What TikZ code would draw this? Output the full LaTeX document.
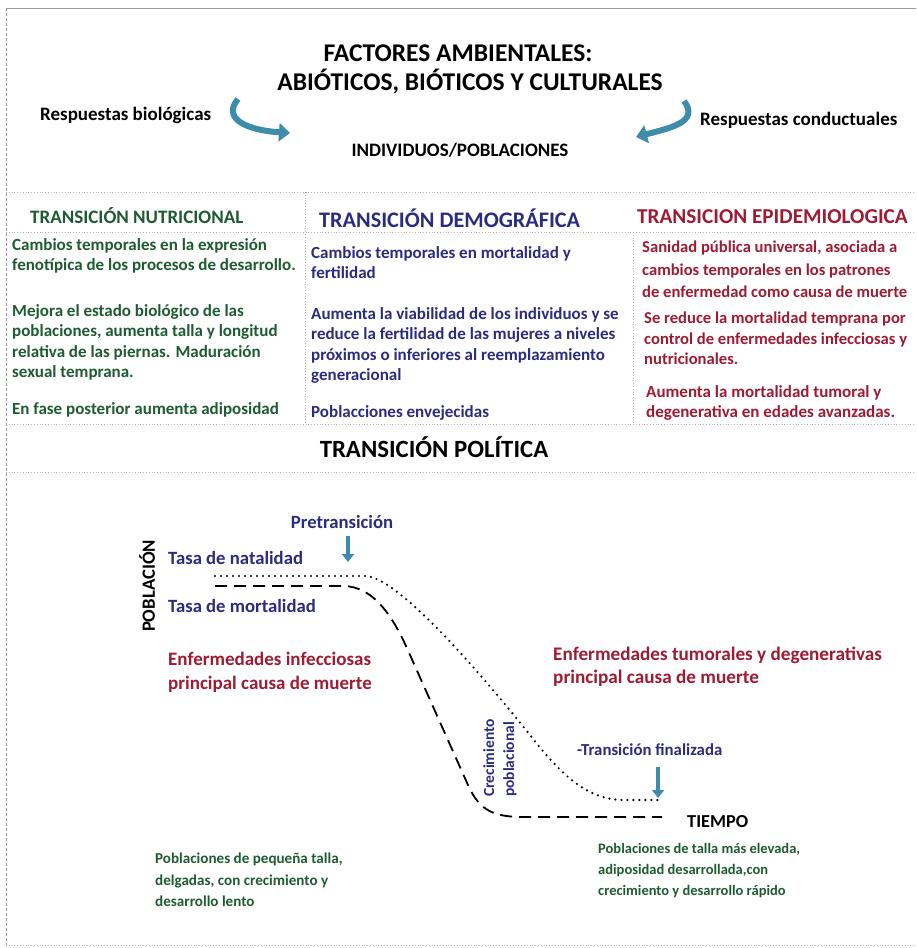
\documentclass[tikz,border=0pt]{standalone}
\usepackage{fontspec}
\setmainfont{Carlito}
\usetikzlibrary{arrows.meta}
\definecolor{verde}{HTML}{1E5A32}
\definecolor{azul}{HTML}{2B2B80}
\definecolor{rojo}{HTML}{9E1B32}
\definecolor{turq}{HTML}{3C8CAA}

\begin{document}
\begin{tikzpicture}[x=1pt, y=-1pt, >=latex,
    titulo/.style={font=\bfseries\fontsize{25.5}{29}\selectfont},
    cabeza/.style={anchor=west, inner sep=0pt, font=\bfseries\fontsize{#1}{#1}\selectfont},
    cuerpo/.style={anchor=north west, align=left, inner sep=0pt, font=\bfseries\fontsize{17}{20.5}\selectfont},
    graf/.style={anchor=west, align=left, inner sep=0pt, font=\bfseries\fontsize{18.7}{23}\selectfont},
    sep/.style={dotted, gray!60, line width=0.8pt},
    flecha/.style={turq, line width=6pt, -{Triangle[width=18pt,length=11pt]}},
    flechita/.style={turq, line width=4pt, -{Triangle[width=12pt,length=8pt]}}]
  \useasboundingbox (0,0) rectangle (916,948);
  % marco
  \draw[gray!80, line width=1pt] (6,8) -- (916,8);
  \draw[gray!80, line width=1pt, densely dashed] (6,8) -- (6,948);
  \draw[sep] (6,945) -- (916,945);

  % cabecera
  \node[titulo] (fact) at (458,53) {FACTORES AMBIENTALES:};
  \node[titulo] (abio) at (470,82) {ABIÓTICOS, BIÓTICOS Y CULTURALES};
  \node[cabeza=19] (rbio) at (40,115) {Respuestas biológicas};
  \node[cabeza=19] (rcon) at (700,120) {Respuestas conductuales};
  \node[font=\bfseries\fontsize{19}{19}\selectfont] (indiv) at (460,150) {INDIVIDUOS/POBLACIONES};
  \coordinate (b1) at (238,99);
  \coordinate (b2) at (290,133);
  \coordinate (c1) at (684,101);
  \coordinate (c2) at (636,137);
  \draw[flecha] (b1) .. controls (222,118) and (245,130) .. (b2);
  \draw[flecha] (c1) .. controls (700,122) and (670,128) .. (c2);

  % columnas
  \draw[sep] (6,192) -- (916,192);
  \draw[sep] (6,232) -- (916,232);
  \draw[sep] (6,424) -- (916,424);
  \draw[sep] (6,472) -- (916,472);
  \draw[sep] (305,192) -- (305,424);
  \draw[sep] (633,232) -- (633,424);

  \node[cabeza=19, verde] (nutri) at (30,216) {TRANSICIÓN NUTRICIONAL};
  \node[cabeza=22.2, azul] (demo) at (319,218) {TRANSICIÓN DEMOGRÁFICA};
  \node[cabeza=21.2, rojo] (epid) at (637,217) {TRANSICION EPIDEMIOLOGICA};

  \node[cuerpo, verde] (n1) at (12,238) {Cambios temporales en la expresión\\fenotípica de los procesos de desarrollo.};
  \node[cuerpo, verde] (n2) at (12,304) {Mejora el estado biológico de las\\poblaciones, aumenta talla y longitud\\relativa de las piernas. Maduración\\sexual temprana.};
  \node[cuerpo, verde] (n3) at (12,402) {En fase posterior aumenta adiposidad};

  \node[cuerpo, azul] (d1) at (311,246) {Cambios temporales en mortalidad y\\fertilidad};
  \node[cuerpo, azul] (d2) at (311,307) {Aumenta la viabilidad de los individuos y se\\reduce la fertilidad de las mujeres a niveles\\próximos o inferiores al reemplazamiento\\generacional};
  \node[cuerpo, azul] (d3) at (311,405) {Poblacciones envejecidas};

  \node[cuerpo, rojo, font=\bfseries\fontsize{16.6}{22.5}\selectfont] (e1) at (642,241) {Sanidad pública universal, asociada a\\cambios temporales en los patrones\\de enfermedad como causa de muerte};
  \node[cuerpo, rojo, font=\bfseries\fontsize{16.6}{20.5}\selectfont] (e2) at (644,312) {Se reduce la mortalidad temprana por\\control de enfermedades infecciosas y\\nutricionales.};
  \node[cuerpo, rojo] (e3) at (646,385) {Aumenta la mortalidad tumoral y\\degenerativa en edades avanzadas.};

  \node[font=\bfseries\fontsize{24.8}{24.8}\selectfont] (poli) at (434,447) {TRANSICIÓN POLÍTICA};

  % grafica
  \node[graf, azul, anchor=center] (pret) at (342,522) {Pretransición};
  \coordinate (pa) at (348,536);
  \coordinate (pb) at (348,562);
  \draw[flechita] (pa) -- (pb);
  \node[graf, rotate=90, anchor=center] (pobl) at (147,586) {POBLACIÓN};
  \node[graf, azul] (nat) at (168,558) {Tasa de natalidad};
  \node[graf, azul] (mort) at (168,606) {Tasa de mortalidad};
  \node[graf, rojo, font=\bfseries\fontsize{19}{24}\selectfont] (inf) at (168,672) {Enfermedades infecciosas\\principal causa de muerte};
  \node[graf, rojo, font=\bfseries\fontsize{19.2}{23}\selectfont] (tum) at (553,667) {Enfermedades tumorales y degenerativas\\principal causa de muerte};

  \coordinate (n0) at (215,576);
  \coordinate (nf) at (662,800);
  \draw[line width=2.4pt, line cap=round, dash pattern=on 0pt off 6pt] (n0) -- (365,576)
    .. controls (395,576) and (470,660) .. (530,735)
    .. controls (565,780) and (590,800) .. (625,800) -- (nf);
  \coordinate (m0) at (215,586);
  \coordinate (mf) at (662,817);
  \draw[line width=1.8pt, dash pattern=on 12pt off 7pt] (m0) -- (343,586)
    .. controls (375,586) and (395,620) .. (410,655)
    -- (468,785)
    .. controls (480,812) and (495,817) .. (525,817) -- (mf);

  \node[graf, azul, rotate=90, anchor=center, font=\bfseries\fontsize{15.5}{20}\selectfont] (crec) at (500,758) {Crecimiento\\poblacional};
  \node[graf, azul, font=\bfseries\fontsize{16.8}{16.8}\selectfont] (fin) at (577,750) {-Transición finalizada};
  \coordinate (fa) at (658,767);
  \coordinate (fb) at (658,798);
  \draw[flechita] (fa) -- (fb);
  \node[graf, font=\bfseries\fontsize{18.3}{18.3}\selectfont] (tiem) at (687,822) {TIEMPO};

  \node[graf, verde, font=\bfseries\fontsize{15.1}{21.5}\selectfont] (peq) at (155,880) {Poblaciones de pequeña talla,\\delgadas, con crecimiento y\\desarrollo lento};
  \node[graf, verde, font=\bfseries\fontsize{14.5}{21}\selectfont] (alta) at (598,871) {Poblaciones de talla más elevada,\\adiposidad desarrollada,con\\crecimiento y desarrollo rápido};
\end{tikzpicture}
\end{document}
